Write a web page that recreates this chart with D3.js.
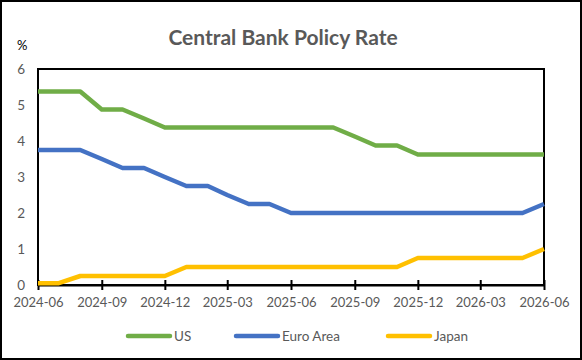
<!DOCTYPE html>
<html>
<head>
    <meta charset="utf-8">
    <title>Central Bank Policy Rate</title>
    <script src="https://cdn.jsdelivr.net/npm/d3@7"></script>
    <style>
        body { margin: 0; background: #fff; }
    </style>
</head>
<body>
<script>
    // monthly observations, 2024-06 .. 2026-06
    var months = ["2024-06","2024-07","2024-08","2024-09","2024-10","2024-11","2024-12",
                  "2025-01","2025-02","2025-03","2025-04","2025-05","2025-06","2025-07",
                  "2025-08","2025-09","2025-10","2025-11","2025-12","2026-01","2026-02",
                  "2026-03","2026-04","2026-05","2026-06"];
    var us = [5.375,5.375,5.375,4.875,4.875,4.625,4.375,4.375,4.375,4.375,4.375,4.375,4.375,
              4.375,4.375,4.125,3.875,3.875,3.625,3.625,3.625,3.625,3.625,3.625,3.625];
    var euro = [3.75,3.75,3.75,3.5,3.25,3.25,3.0,2.75,2.75,2.5,2.25,2.25,2.0,2.0,2.0,2.0,
                2.0,2.0,2.0,2.0,2.0,2.0,2.0,2.0,2.25];
    var japan = [0.05,0.05,0.25,0.25,0.25,0.25,0.25,0.5,0.5,0.5,0.5,0.5,0.5,0.5,0.5,0.5,
                 0.5,0.5,0.75,0.75,0.75,0.75,0.75,0.75,1.0];
    var xTicks = ["2024-06","2024-09","2024-12","2025-03","2025-06","2025-09","2025-12","2026-03","2026-06"];
    var yTicks = [0,1,2,3,4,5,6];

    var w = 582, h = 360;
    var mLeft = 38, mRight = 544, mTop = 69, mBottom = 285;
    var font = "Lato, 'Open Sans', sans-serif";
    var parse = d3.timeParse("%Y-%m");
    var dates = months.map(parse);

    var series = [
        {name: "US", values: us, color: "#70AD47"},
        {name: "Euro Area", values: euro, color: "#4472C4"},
        {name: "Japan", values: japan, color: "#FFC000"}
    ];

    var svg = d3.select("body").append("svg")
        .attr("width", w)
        .attr("height", h)
        .style("font-family", font);

    // outer frame
    svg.append("rect")
        .attr("x", 1).attr("y", 1)
        .attr("width", w - 2).attr("height", h - 2)
        .attr("fill", "#fff").attr("stroke", "#000").attr("stroke-width", 2);

    svg.append("text")
        .attr("x", 283).attr("y", 45)
        .attr("text-anchor", "middle")
        .attr("font-size", 21).attr("font-weight", "bold")
        .attr("fill", "#595959")
        .text("Central Bank Policy Rate");

    svg.append("text")
        .attr("x", 17).attr("y", 50)
        .attr("font-size", 13).attr("fill", "#000")
        .text("%");

    var x = d3.scaleTime().domain(d3.extent(dates)).range([mLeft, mRight]);
    var y = d3.scaleLinear().domain([0, 6]).range([mBottom, mTop]);

    // plot frame
    svg.append("rect")
        .attr("x", mLeft).attr("y", mTop)
        .attr("width", mRight - mLeft).attr("height", mBottom - mTop)
        .attr("fill", "none").attr("stroke", "#000").attr("stroke-width", 2);

    // y axis, labels only
    var yAxis = svg.append("g")
        .attr("transform", "translate(" + mLeft + ",0)")
        .call(d3.axisLeft(y).tickValues(yTicks).tickFormat(d3.format("d"))
            .tickSize(0).tickPadding(13));
    yAxis.select(".domain").remove();
    yAxis.selectAll("text").attr("font-size", 13.5).attr("fill", "#595959")
        .style("font-family", font);

    // x axis with crossing ticks
    var xAxis = svg.append("g")
        .attr("transform", "translate(0," + mBottom + ")")
        .call(d3.axisBottom(x)
            .tickValues(xTicks.map(parse))
            .tickFormat(d3.timeFormat("%Y-%m"))
            .tickSizeInner(5).tickSizeOuter(0).tickPadding(8));
    xAxis.select(".domain").attr("stroke", "#000").attr("stroke-width", 2);
    xAxis.selectAll(".tick line").attr("stroke", "#000").attr("stroke-width", 2)
        .attr("y1", -5).attr("y2", 5);
    xAxis.selectAll("text").attr("font-size", 13).attr("fill", "#595959")
        .style("font-family", font);

    var line = d3.line()
        .x(function(d, i) { return x(dates[i]); })
        .y(function(d) { return y(d); });

    svg.selectAll("path.series")
        .data(series)
        .enter()
        .append("path")
        .attr("class", "series")
        .attr("d", function(d) { return line(d.values); })
        .attr("fill", "none")
        .attr("stroke", function(d) { return d.color; })
        .attr("stroke-width", 4.5)
        .attr("stroke-linejoin", "round");

    // legend
    var legendX = [128, 236, 388];
    var legend = svg.selectAll("g.legend")
        .data(series)
        .enter()
        .append("g")
        .attr("class", "legend")
        .attr("transform", function(d, i) { return "translate(" + legendX[i] + ",336)"; });
    legend.append("line")
        .attr("x1", 0).attr("x2", 42)
        .attr("stroke", function(d) { return d.color; })
        .attr("stroke-width", 4.5)
        .attr("stroke-linecap", "round");
    legend.append("text")
        .attr("x", 46).attr("y", 5)
        .attr("font-size", 13.5).attr("fill", "#595959")
        .text(function(d) { return d.name; });
</script>
</body>
</html>
